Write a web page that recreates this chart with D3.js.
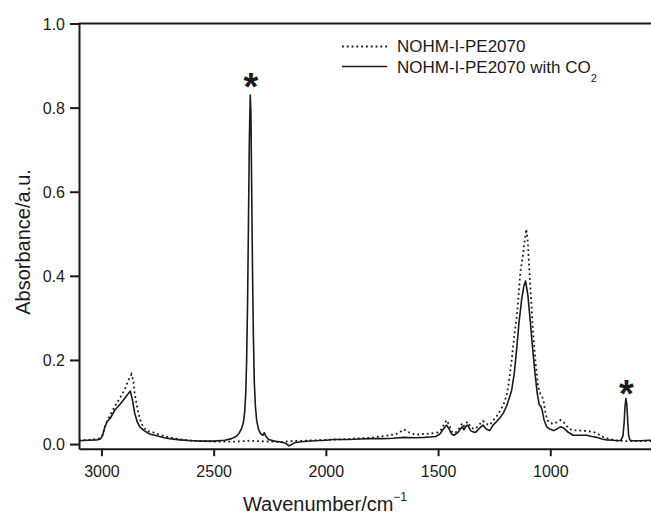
<!DOCTYPE html>
<html>
<head>
<meta charset="utf-8">
<script src="https://cdn.jsdelivr.net/npm/d3@7"></script>
<style>
  body { margin: 0; background: #fff; }
  svg { display: block; font-family: 'Liberation Sans', Arial, sans-serif; }
</style>
</head>
<body>
<div class="chart"></div>
<script>
// spectrum without CO2 (dotted), [wavenumber, absorbance]
const pe2070 = [
  [3100, 0.009], [3060, 0.010], [3020, 0.012], [3005, 0.014], [2995, 0.022], [2985, 0.040],
  [2975, 0.055], [2960, 0.070], [2940, 0.090], [2915, 0.112], [2896, 0.130], [2880, 0.152],
  [2866, 0.166], [2858, 0.150], [2852, 0.120], [2840, 0.085], [2829, 0.060], [2815, 0.042],
  [2800, 0.032], [2770, 0.028], [2740, 0.022], [2700, 0.016], [2650, 0.011], [2600, 0.008],
  [2500, 0.006], [2400, 0.006], [2340, 0.008], [2300, 0.007], [2250, 0.006], [2200, 0.005],
  [2150, 0.007], [2100, 0.008], [2000, 0.010], [1900, 0.012], [1800, 0.015], [1715, 0.021],
  [1680, 0.025], [1652, 0.035], [1630, 0.028], [1600, 0.022], [1567, 0.024], [1530, 0.025],
  [1500, 0.028], [1485, 0.035], [1470, 0.050], [1462, 0.057], [1450, 0.045], [1440, 0.030],
  [1430, 0.026], [1415, 0.030], [1400, 0.042], [1392, 0.050], [1385, 0.043], [1375, 0.050],
  [1368, 0.053], [1355, 0.040], [1340, 0.036], [1330, 0.038], [1315, 0.047], [1300, 0.055],
  [1285, 0.048], [1270, 0.045], [1255, 0.056], [1240, 0.065], [1225, 0.078], [1210, 0.092],
  [1195, 0.115], [1185, 0.145], [1172, 0.200], [1160, 0.260], [1150, 0.300], [1143, 0.342],
  [1133, 0.410], [1123, 0.445], [1115, 0.480], [1107, 0.511], [1100, 0.480], [1094, 0.420],
  [1085, 0.340], [1076, 0.260], [1065, 0.190], [1054, 0.136], [1045, 0.120], [1038, 0.115],
  [1031, 0.105], [1020, 0.070], [1010, 0.055], [1001, 0.050], [985, 0.048], [970, 0.052],
  [955, 0.057], [945, 0.055], [930, 0.045], [915, 0.036], [899, 0.033], [870, 0.032],
  [840, 0.031], [810, 0.029], [790, 0.025], [770, 0.018], [749, 0.014], [720, 0.010],
  [700, 0.008], [660, 0.007], [620, 0.007], [580, 0.007], [520, 0.007]
];

// spectrum with CO2 (solid)
const pe2070co2 = [
  [3100, 0.008], [3060, 0.009], [3020, 0.010], [3005, 0.012], [2995, 0.020], [2985, 0.040],
  [2975, 0.053], [2960, 0.062], [2940, 0.081], [2915, 0.096], [2896, 0.109], [2880, 0.120],
  [2871, 0.126], [2862, 0.105], [2852, 0.074], [2840, 0.052], [2829, 0.041], [2810, 0.032],
  [2785, 0.024], [2750, 0.019], [2720, 0.015], [2696, 0.013], [2650, 0.010], [2593, 0.008],
  [2550, 0.007], [2500, 0.007], [2450, 0.009], [2420, 0.013], [2400, 0.018], [2385, 0.027],
  [2375, 0.038], [2368, 0.050], [2362, 0.075], [2357, 0.120], [2353, 0.200], [2349, 0.330],
  [2345, 0.520], [2341, 0.720], [2337, 0.830], [2334, 0.790], [2331, 0.630], [2327, 0.420],
  [2323, 0.260], [2319, 0.150], [2314, 0.090], [2308, 0.055], [2300, 0.035], [2290, 0.024],
  [2280, 0.021], [2274, 0.027], [2268, 0.019], [2255, 0.011], [2230, 0.007], [2200, 0.005],
  [2180, 0.002], [2165, -0.004], [2155, -0.002], [2140, 0.003], [2100, 0.006], [2050, 0.008],
  [2000, 0.009], [1967, 0.011], [1900, 0.011], [1850, 0.012], [1800, 0.013], [1745, 0.013],
  [1700, 0.014], [1652, 0.016], [1600, 0.015], [1560, 0.016], [1536, 0.017], [1510, 0.018],
  [1490, 0.025], [1475, 0.037], [1462, 0.045], [1450, 0.035], [1440, 0.024], [1430, 0.021],
  [1415, 0.026], [1400, 0.036], [1392, 0.041], [1385, 0.034], [1375, 0.043], [1368, 0.045],
  [1355, 0.032], [1340, 0.028], [1330, 0.029], [1315, 0.038], [1300, 0.045], [1285, 0.036],
  [1270, 0.032], [1255, 0.045], [1240, 0.053], [1225, 0.062], [1210, 0.073], [1195, 0.090],
  [1185, 0.106], [1172, 0.128], [1160, 0.170], [1150, 0.225], [1140, 0.285], [1128, 0.342],
  [1118, 0.375], [1110, 0.388], [1100, 0.355], [1091, 0.303], [1080, 0.235], [1068, 0.168],
  [1058, 0.120], [1049, 0.093], [1042, 0.090], [1036, 0.080], [1028, 0.058], [1016, 0.041],
  [1000, 0.035], [985, 0.032], [970, 0.036], [955, 0.041], [940, 0.038], [920, 0.028],
  [898, 0.021], [870, 0.021], [838, 0.021], [815, 0.018], [793, 0.016], [770, 0.012],
  [749, 0.010], [720, 0.009], [700, 0.008], [685, 0.009], [676, 0.020], [671, 0.050],
  [667, 0.090], [663, 0.108], [659, 0.095], [655, 0.055], [651, 0.022], [646, 0.010],
  [637, 0.008], [600, 0.008], [560, 0.009], [520, 0.009]
];

// CO2 bands marked with a star: [wavenumber, absorbance where the star sits]
const starMarks = [[2334, 0.868], [661, 0.138]];

const xMajor = [3000, 2500, 2000, 1500, 1000];
const xMinor = [2750, 2250, 1750, 1250, 750];
const yMajor = [0, 0.2, 0.4, 0.6, 0.8, 1.0];
const yMinor = [0.1, 0.3, 0.5, 0.7, 0.9];

const legendLabels = ['NOHM-I-PE2070', 'NOHM-I-PE2070 with CO'];

const W = 651, H = 516;
const ink = '#1a1a1a';

const svg = d3.select('.chart')
  .append('svg')
  .attr('width', W)
  .attr('height', H);

const x = d3.scaleLinear().domain([3100, 520]).range([79, 658]);
const y = d3.scaleLinear().domain([-0.011, 1.0]).range([448.7, 23.5]);

// plot clip
svg.append('clipPath').attr('id', 'plot')
  .append('rect').attr('x', 79).attr('y', 23.5).attr('width', 580).attr('height', 425.2);

const line = d3.line()
  .x((d) => x(d[0]))
  .y((d) => y(d[1]));

const plot = svg.append('g').attr('clip-path', 'url(#plot)');

plot.append('path')
  .datum(pe2070)
  .attr('d', line)
  .attr('fill', 'none')
  .attr('stroke', ink)
  .attr('stroke-width', 1.8)
  .attr('stroke-dasharray', '1.8,3');

plot.append('path')
  .datum(pe2070co2)
  .attr('d', line)
  .attr('fill', 'none')
  .attr('stroke', ink)
  .attr('stroke-width', 1.6)
  .attr('stroke-linejoin', 'round');

// stars (glyph centre sits at the given point)
svg.selectAll('text.star')
  .data(starMarks)
  .enter()
  .append('text')
  .attr('class', 'star')
  .attr('x', (d) => x(d[0]))
  .attr('y', (d) => y(d[1]) + 21)
  .attr('text-anchor', 'middle')
  .attr('font-size', 38)
  .attr('font-weight', 'bold')
  .attr('fill', ink)
  .text('*');

// x axis
const xAxis = svg.append('g').attr('transform', `translate(0,${y(-0.011)})`);
xAxis.call(d3.axisBottom(x).tickValues(xMinor).tickSize(4.5).tickSizeOuter(0).tickFormat(''));
xAxis.call(d3.axisBottom(x).tickValues(xMajor).tickSize(7.5).tickSizeOuter(0).tickFormat(d3.format('d')));
xAxis.selectAll('text').attr('y', 28).attr('dy', 0).attr('font-size', 16)
  .attr('font-family', "'Liberation Sans', Arial, sans-serif").attr('fill', ink);

// y axis
const yAxis = svg.append('g').attr('transform', `translate(${x(3100)},0)`);
yAxis.call(d3.axisLeft(y).tickValues(yMinor).tickSize(4.5).tickSizeOuter(0).tickFormat(''));
yAxis.call(d3.axisLeft(y).tickValues(yMajor).tickSize(9).tickSizeOuter(0).tickFormat(d3.format('.1f')));
yAxis.selectAll('text').attr('x', -14).attr('dy', '0.36em').attr('font-size', 16)
  .attr('font-family', "'Liberation Sans', Arial, sans-serif").attr('fill', ink);

svg.selectAll('.domain, .tick line').attr('stroke', ink).attr('stroke-width', 2);

// top frame
svg.append('line')
  .attr('x1', x(3100)).attr('x2', W)
  .attr('y1', y(1.0)).attr('y2', y(1.0))
  .attr('stroke', ink).attr('stroke-width', 2);

// axis titles
const xt = svg.append('text')
  .attr('x', 325).attr('y', 511)
  .attr('text-anchor', 'middle')
  .attr('font-size', 20)
  .attr('fill', ink);
xt.append('tspan').text('Wavenumber/cm');
xt.append('tspan').attr('font-size', 12).attr('dy', -10).text('\u22121');

svg.append('text')
  .attr('transform', 'translate(30,242) rotate(-90)')
  .attr('text-anchor', 'middle')
  .attr('font-size', 20)
  .attr('fill', ink)
  .text('Absorbance/a.u.');

// legend
const legend = svg.append('g');
legend.append('line')
  .attr('x1', 342).attr('x2', 387).attr('y1', 46.5).attr('y2', 46.5)
  .attr('stroke', ink).attr('stroke-width', 1.8).attr('stroke-dasharray', '1.8,3');
legend.append('line')
  .attr('x1', 342).attr('x2', 387).attr('y1', 66.5).attr('y2', 66.5)
  .attr('stroke', ink).attr('stroke-width', 1.6);
legend.append('text')
  .attr('x', 397).attr('y', 52)
  .attr('font-size', 17).attr('fill', ink)
  .text(legendLabels[0]);
const l2 = legend.append('text')
  .attr('x', 397).attr('y', 73)
  .attr('font-size', 17).attr('fill', ink);
l2.append('tspan').text(legendLabels[1]);
l2.append('tspan').attr('font-size', 11).attr('dy', 9).text('2');
</script>
</body>
</html>
